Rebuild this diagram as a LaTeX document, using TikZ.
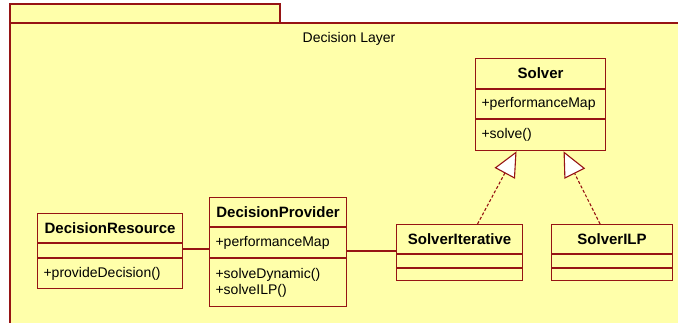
\documentclass[tikz,border=0pt]{standalone}
\usepackage{fontspec}
\setmainfont{Liberation Sans}
\usetikzlibrary{arrows.meta,positioning,calc}

\begin{document}
\begin{tikzpicture}[x=1pt,y=-1pt,line width=1.1pt,
	kopf/.style={draw=umlrot,fill=umlgelb,inner sep=0pt,anchor=north west,
		font=\fontsize{15}{17}\selectfont\bfseries},
	fach/.style={draw=umlrot,fill=umlgelb,inner xsep=6pt,inner ysep=0pt,
		anchor=north west,align=left,font=\fontsize{14}{16.5}\selectfont},
	assoz/.style={draw=umlrot},
	erbt/.style={draw=umlrot,dashed,dash pattern=on 3pt off 2pt,
		-{Triangle[open,length=25pt,width=23pt,fill=white,line width=1.1pt]}}]

\definecolor{umlrot}{RGB}{150,20,20}
\definecolor{umlgelb}{RGB}{255,255,170}

\useasboundingbox (0,0) rectangle (678,323);
\clip (0,0) rectangle (678,323);

% Paket
\draw[umlrot,fill=umlgelb] (10,4) rectangle (280,23);
\draw[umlrot,fill=umlgelb] (10,23) rectangle (700,345);
\node[font=\fontsize{14}{16}\selectfont] (paket) at (349,39) {Decision Layer};

% Solver
\node[kopf,minimum width=130pt,minimum height=30pt] (solver) at (475,58) {Solver};
\node[fach,text width=118pt,minimum height=29pt] (solverA) at (solver.south west) {+performanceMap};
\node[fach,text width=118pt,minimum height=31pt] (solverO) at (solverA.south west) {+solve()};

% DecisionResource
\node[kopf,minimum width=145pt,minimum height=29pt] (res) at (37,213) {DecisionResource};
\node[fach,text width=133pt,minimum height=14pt] (resA) at (res.south west) {};
\node[fach,text width=133pt,minimum height=30pt] (resO) at (resA.south west) {+provideDecision()};

% DecisionProvider
\node[kopf,minimum width=137pt,minimum height=29pt] (prov) at (209,197) {DecisionProvider};
\node[fach,text width=125pt,minimum height=30pt] (provA) at (prov.south west) {+performanceMap};
\node[fach,text width=125pt,minimum height=48pt] (provO) at (provA.south west) {+solveDynamic()\\+solveILP()};

% SolverIterative
\node[kopf,minimum width=126pt,minimum height=29pt] (iter) at (396,224) {SolverIterative};
\node[fach,text width=114pt,minimum height=13pt] (iterA) at (iter.south west) {};
\node[fach,text width=114pt,minimum height=12pt] (iterO) at (iterA.south west) {};

% SolverILP
\node[kopf,minimum width=121pt,minimum height=29pt] (ilp) at (551,224) {SolverILP};
\node[fach,text width=109pt,minimum height=13pt] (ilpA) at (ilp.south west) {};
\node[fach,text width=109pt,minimum height=12pt] (ilpO) at (ilpA.south west) {};

% Beziehungen
\draw[assoz] (res.east |- 0,249) -- (prov.west |- 0,249);
\draw[assoz] (provA.east |- 0,251) -- (iter.west |- 0,251);
\draw[erbt] ($(iter.north)+(18,0)$) -- ($(solverO.south)+(-24,0)$);
\draw[erbt] ($(ilp.north)+(-12,0)$) -- ($(solverO.south)+(23,0)$);

\end{tikzpicture}
\end{document}
